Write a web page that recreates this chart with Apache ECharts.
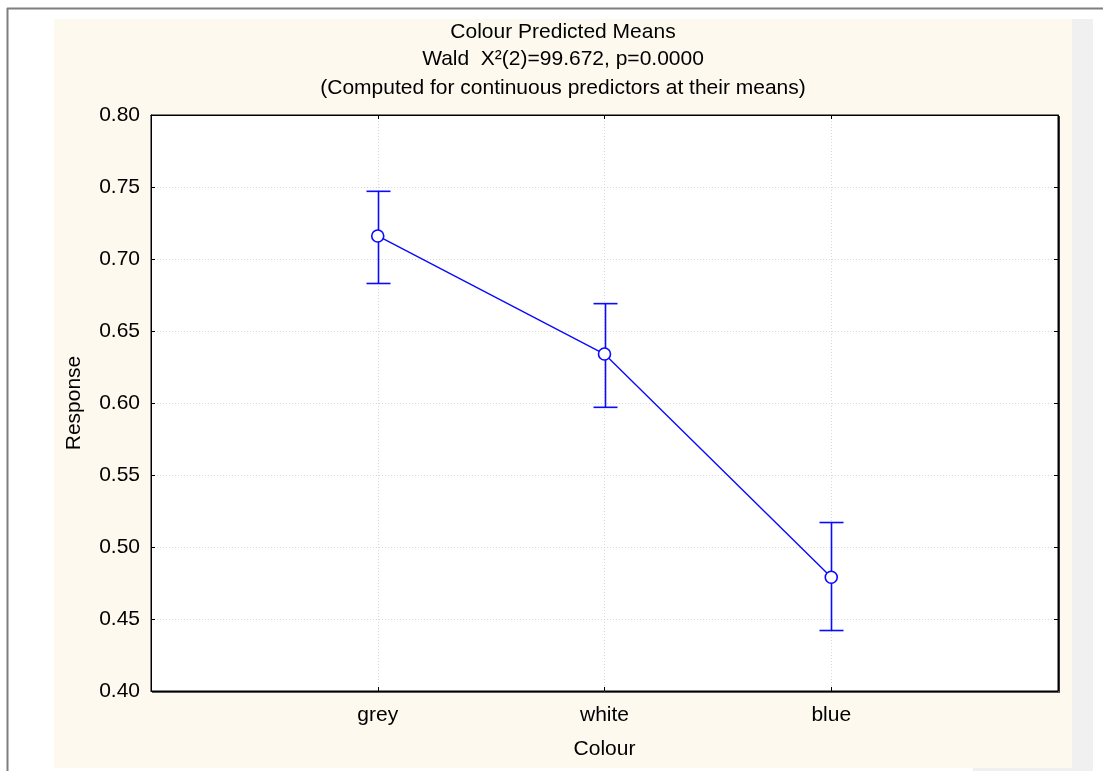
<!DOCTYPE html>
<html>
<head>
<meta charset="utf-8">
<script src="https://cdn.jsdelivr.net/npm/echarts@6/dist/echarts.min.js"></script>
<style>
  html, body { margin: 0; padding: 0; background: #ffffff; }
  #chart { width: 1103px; height: 771px; }
</style>
</head>
<body>
<div id="chart"></div>
<script>
// ---- Data ----
const titleLines = ['Colour Predicted Means', 'Wald  X\u00b2(2)=99.672, p=0.0000', '(Computed for continuous predictors at their means)'];
const categories = ['grey', 'white', 'blue'];
const means = [0.716, 0.634, 0.479];
const lower = [0.683, 0.597, 0.442];
const upper = [0.747, 0.669, 0.517];
const yMin = 0.40, yMax = 0.80, yStep = 0.05;
const xName = 'Colour';
const yName = 'Response';

// ---- Chart ----
const FONT = '"Liberation Sans", Arial, sans-serif';
const BLUE = '#0a0aff';
const axisCats = [''].concat(categories, ['']);
const meanData = means.map((v, i) => [i + 1, v]);
const errData = categories.map((c, i) => [i + 1, lower[i], upper[i]]);

const chart = echarts.init(document.getElementById('chart'), null, { renderer: 'canvas' });

const option = {
  backgroundColor: '#ffffff',
  animation: false,
  textStyle: { fontFamily: FONT },
  graphic: [
    { type: 'rect', z: -10, silent: true, shape: { x: 54, y: 19, width: 1018, height: 749 }, style: { fill: '#fdf9ee' } },
    { type: 'rect', z: -10, silent: true, shape: { x: 1072, y: 19, width: 21, height: 752 }, style: { fill: '#f0f0f0' } },
    { type: 'rect', z: -10, silent: true, shape: { x: 973, y: 768, width: 99, height: 3 }, style: { fill: '#f0f0f0' } },
    { type: 'line', z: -5, silent: true, shape: { x1: 7, y1: 8.5, x2: 1103, y2: 8.5 }, style: { stroke: '#7f7f7f', lineWidth: 2 } },
    { type: 'line', z: -5, silent: true, shape: { x1: 7.5, y1: 8, x2: 7.5, y2: 771 }, style: { stroke: '#7f7f7f', lineWidth: 2 } },
    { type: 'line', z: 50, silent: true, shape: { x1: 1059.5, y1: 116, x2: 1059.5, y2: 692 }, style: { stroke: '#333', lineWidth: 1 } },
    { type: 'line', z: 50, silent: true, shape: { x1: 152, y1: 692.5, x2: 1060, y2: 692.5 }, style: { stroke: '#555', lineWidth: 1 } },
    { type: 'text', silent: true, x: 563, y: 32, style: { text: titleLines[0], font: '21px ' + FONT, fill: '#000', textAlign: 'center', textVerticalAlign: 'middle' } },
    { type: 'text', silent: true, x: 563, y: 59, style: { text: titleLines[1], font: '21px ' + FONT, fill: '#000', textAlign: 'center', textVerticalAlign: 'middle' } },
    { type: 'text', silent: true, x: 563, y: 88, style: { text: titleLines[2], font: '21px ' + FONT, fill: '#000', textAlign: 'center', textVerticalAlign: 'middle' } }
  ],
  grid: {
    left: 151, top: 115, right: 45, bottom: 80,
    show: true, backgroundColor: '#ffffff', borderColor: '#000', borderWidth: 1
  },
  xAxis: [{
    type: 'category',
    data: axisCats,
    boundaryGap: false,
    position: 'bottom',
    name: xName,
    nameLocation: 'middle',
    nameGap: 48,
    nameTextStyle: { fontSize: 21, color: '#000', fontFamily: FONT },
    axisLine: { show: true, lineStyle: { color: '#000', width: 1 } },
    axisTick: { show: true, inside: true, length: 4, lineStyle: { color: '#000' } },
    axisLabel: { fontSize: 21, color: '#000', margin: 14, fontFamily: FONT },
    splitLine: { show: true, lineStyle: { color: '#d8d8d8', type: [1, 2], width: 1 } }
  }, {
    type: 'category',
    data: axisCats,
    boundaryGap: false,
    position: 'top',
    axisLine: { show: true, lineStyle: { color: '#000' } },
    axisTick: { show: true, inside: true, length: 4, lineStyle: { color: '#000' } },
    axisLabel: { show: false },
    splitLine: { show: false }
  }],
  yAxis: [{
    type: 'value',
    min: yMin, max: yMax, interval: yStep,
    name: yName,
    nameLocation: 'middle',
    nameGap: 66,
    nameRotate: 90,
    nameTextStyle: { fontSize: 21, color: '#000', fontFamily: FONT },
    axisLine: { show: true, lineStyle: { color: '#000', width: 1 } },
    axisTick: { show: true, inside: true, length: 4, lineStyle: { color: '#000' } },
    axisLabel: { fontSize: 21, color: '#000', margin: 11, fontFamily: FONT, formatter: v => v.toFixed(2) },
    splitLine: { show: true, lineStyle: { color: '#d8d8d8', type: [1, 2], width: 1 } }
  }, {
    type: 'value',
    min: yMin, max: yMax, interval: yStep,
    position: 'right',
    axisLine: { show: true, lineStyle: { color: '#000', width: 1 } },
    axisTick: { show: true, inside: true, length: 4, lineStyle: { color: '#000' } },
    axisLabel: { show: false },
    splitLine: { show: false }
  }],
  series: [{
    type: 'custom',
    xAxisIndex: 0, yAxisIndex: 0,
    data: errData,
    z: 3,
    renderItem: function (params, api) {
      const x = api.value(0);
      const lo = api.coord([x, api.value(1)]);
      const hi = api.coord([x, api.value(2)]);
      const cx = Math.round(lo[0]) + 0.5;
      const half = 12;
      const st = { stroke: BLUE, lineWidth: 1.6 };
      return {
        type: 'group',
        children: [
          { type: 'line', shape: { x1: cx, y1: lo[1], x2: cx, y2: hi[1] }, style: st },
          { type: 'line', shape: { x1: cx - half, y1: lo[1], x2: cx + half, y2: lo[1] }, style: st },
          { type: 'line', shape: { x1: cx - half, y1: hi[1], x2: cx + half, y2: hi[1] }, style: st }
        ]
      };
    }
  }, {
    type: 'line',
    xAxisIndex: 0, yAxisIndex: 0,
    data: meanData,
    z: 5,
    symbol: 'circle',
    symbolSize: 12,
    showAllSymbol: true,
    lineStyle: { color: BLUE, width: 1.4 },
    itemStyle: { color: '#ffffff', borderColor: BLUE, borderWidth: 1.6 }
  }]
};

chart.setOption(option);
</script>
</body>
</html>
